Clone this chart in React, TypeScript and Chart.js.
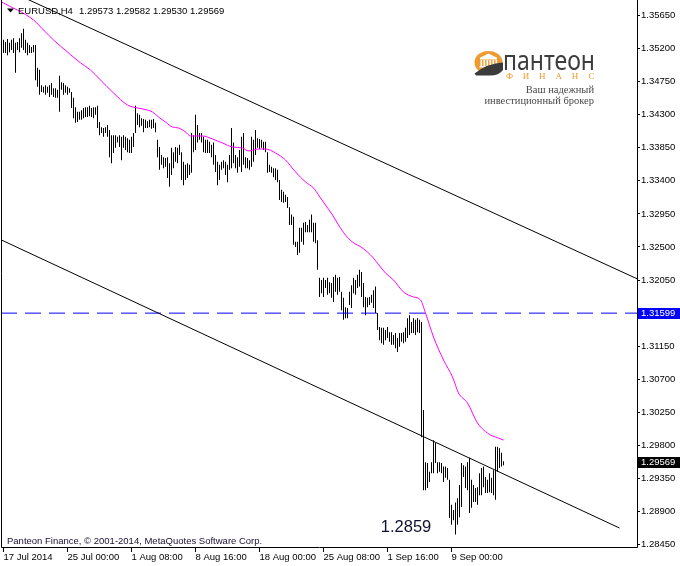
import React, { useEffect, useRef } from "react";
import { Chart, registerables } from "chart.js";

Chart.register(...registerables);

// ---------- DATA ----------
const symbolTitle = "EURUSD,H4";
const titleQuote = ["1.29573", "1.29582", "1.29530", "1.29569"];
const copyrightText = "Panteon Finance, \u00A9 2001-2014, MetaQuotes Software Corp.";
const lowLabel = "1.2859";

// H4 bars (index 0 = 17 Jul 2014 16:00), high / low
const barHigh = [
  1.3532, 1.3529, 1.3533, 1.3528, 1.3532, 1.3534, 1.3528, 1.3529, 1.3534, 1.3541,
  1.3547, 1.3532, 1.3528, 1.3525, 1.3522, 1.3525, 1.3525, 1.3494, 1.3491, 1.3470,
  1.3468, 1.3470, 1.3468, 1.3470, 1.3473, 1.3466, 1.3466, 1.3464, 1.3483, 1.3474,
  1.3473, 1.3470, 1.3468, 1.3466, 1.3461, 1.3453, 1.3440, 1.3434, 1.3434, 1.3436,
  1.3439, 1.3440, 1.3440, 1.3442, 1.3439, 1.3440, 1.3440, 1.3442, 1.3420, 1.3413,
  1.3412, 1.3413, 1.3416, 1.3409, 1.3402, 1.3402, 1.3402, 1.3400, 1.3402, 1.3400,
  1.3402, 1.3400, 1.3398, 1.3396, 1.3400, 1.3405, 1.3442, 1.3432, 1.3430, 1.3425,
  1.3424, 1.3423, 1.3421, 1.3423, 1.3423, 1.3424, 1.3419, 1.3396, 1.3386, 1.3375,
  1.3372, 1.3371, 1.3372, 1.3364, 1.3385, 1.3379, 1.3386, 1.3385, 1.3389, 1.3379,
  1.3366, 1.3362, 1.3364, 1.3362, 1.3405, 1.3402, 1.3430, 1.3416, 1.3405, 1.3405,
  1.3400, 1.3396, 1.3396, 1.3393, 1.3389, 1.3392, 1.3375, 1.3366, 1.3362, 1.3366,
  1.3368, 1.3366, 1.3362, 1.3375, 1.3412, 1.3392, 1.3375, 1.3372, 1.3382, 1.3400,
  1.3405, 1.3372, 1.3371, 1.3368, 1.3400, 1.3396, 1.3409, 1.3398, 1.3397, 1.3396,
  1.3393, 1.3393, 1.3379, 1.3362, 1.3359, 1.3357, 1.3357, 1.3355, 1.3341, 1.3328,
  1.3325, 1.3321, 1.3318, 1.3304, 1.3294, 1.3291, 1.3257, 1.3257, 1.3276, 1.3276,
  1.3283, 1.3284, 1.3280, 1.3287, 1.3294, 1.3283, 1.3283, 1.3259, 1.3208, 1.3205,
  1.3208, 1.3205, 1.3208, 1.3202, 1.3201, 1.3209, 1.3212, 1.3208, 1.3209, 1.3189,
  1.3181, 1.3168, 1.3167, 1.3189, 1.3198, 1.3208, 1.3205, 1.3212, 1.3219, 1.3216,
  1.3201, 1.3182, 1.3181, 1.3182, 1.3185, 1.3191, 1.3196, 1.3160, 1.3141, 1.3140,
  1.3140, 1.3137, 1.3141, 1.3134, 1.3134, 1.3130, 1.3133, 1.3126, 1.3133, 1.3133,
  1.3134, 1.3140, 1.3153, 1.3157, 1.3148, 1.3153, 1.3151, 1.3153, 1.3151, 1.3148,
  1.3028, 1.2957, 1.2956, 1.2944, 1.2957, 1.2987, 1.2983, 1.2957, 1.2957, 1.2956,
  1.2951, 1.2951, 1.2949, 1.2933, 1.2899, 1.2892, 1.2902, 1.2908, 1.2926, 1.2956,
  1.2953, 1.2951, 1.2957, 1.2963, 1.2933, 1.2926, 1.2922, 1.2923, 1.2942, 1.2949,
  1.2951, 1.2937, 1.2933, 1.2942, 1.2936, 1.2946, 1.2978, 1.2978, 1.2976, 1.2970,
  1.29582,
];
const barLow = [
  1.3514, 1.3514, 1.3511, 1.3515, 1.3518, 1.3514, 1.3487, 1.3518, 1.3515, 1.3521,
  1.3518, 1.3514, 1.3511, 1.3514, 1.3514, 1.3515, 1.3477, 1.3468, 1.3457, 1.3461,
  1.3460, 1.3457, 1.3460, 1.3454, 1.3457, 1.3454, 1.3453, 1.3453, 1.3434, 1.3464,
  1.3457, 1.3460, 1.3457, 1.3460, 1.3439, 1.3425, 1.3419, 1.3420, 1.3423, 1.3423,
  1.3425, 1.3427, 1.3427, 1.3428, 1.3427, 1.3425, 1.3430, 1.3412, 1.3402, 1.3405,
  1.3400, 1.3405, 1.3400, 1.3372, 1.3364, 1.3378, 1.3385, 1.3392, 1.3386, 1.3368,
  1.3385, 1.3382, 1.3379, 1.3378, 1.3378, 1.3386, 1.3405, 1.3416, 1.3413, 1.3415,
  1.3406, 1.3412, 1.3412, 1.3413, 1.3411, 1.3412, 1.3406, 1.3372, 1.3355, 1.3362,
  1.3357, 1.3359, 1.3344, 1.3332, 1.3348, 1.3357, 1.3366, 1.3364, 1.3375, 1.3341,
  1.3334, 1.3341, 1.3344, 1.3348, 1.3351, 1.3379, 1.3382, 1.3392, 1.3396, 1.3392,
  1.3379, 1.3378, 1.3378, 1.3378, 1.3372, 1.3362, 1.3352, 1.3334, 1.3341, 1.3355,
  1.3357, 1.3348, 1.3338, 1.3355, 1.3357, 1.3364, 1.3357, 1.3351, 1.3359, 1.3352,
  1.3362, 1.3357, 1.3357, 1.3355, 1.3359, 1.3366, 1.3375, 1.3385, 1.3383, 1.3385,
  1.3382, 1.3379, 1.3351, 1.3352, 1.3351, 1.3345, 1.3341, 1.3338, 1.3314, 1.3311,
  1.3310, 1.3311, 1.3303, 1.3280, 1.3280, 1.3253, 1.3250, 1.3239, 1.3242, 1.3257,
  1.3253, 1.3270, 1.3270, 1.3270, 1.3270, 1.3257, 1.3255, 1.3219, 1.3182, 1.3187,
  1.3182, 1.3194, 1.3185, 1.3187, 1.3181, 1.3175, 1.3189, 1.3185, 1.3189, 1.3164,
  1.3151, 1.3153, 1.3153, 1.3171, 1.3167, 1.3187, 1.3185, 1.3194, 1.3196, 1.3182,
  1.3168, 1.3157, 1.3168, 1.3171, 1.3174, 1.3167, 1.3160, 1.3137, 1.3123, 1.3119,
  1.3117, 1.3123, 1.3126, 1.3121, 1.3117, 1.3117, 1.3112, 1.3107, 1.3114, 1.3121,
  1.3119, 1.3121, 1.3126, 1.3130, 1.3133, 1.3133, 1.3130, 1.3134, 1.3133, 1.2991,
  1.2919, 1.2919, 1.2922, 1.2930, 1.2942, 1.2942, 1.2956, 1.2942, 1.2944, 1.2942,
  1.2930, 1.2936, 1.2933, 1.2881, 1.2872, 1.2878, 1.28587, 1.2872, 1.2882, 1.2896,
  1.2937, 1.2922, 1.2919, 1.2888, 1.2895, 1.2903, 1.2903, 1.2899, 1.2912, 1.2912,
  1.2923, 1.2915, 1.2915, 1.2916, 1.2915, 1.2912, 1.2906, 1.2944, 1.2949, 1.2951,
  1.29530,
];

// moving average (magenta), sampled along bar index
const maIndex = [
  -1, 15, 20, 25, 32, 38.5, 43.5, 48.5, 55, 62, 67, 72, 74.5, 77.5, 81, 84.5, 87.5, 91, 93.5, 99.5,
  104.5, 109.5, 114.5, 119.5, 122.5, 127.5, 131, 136, 141, 146, 151, 155, 157.5, 161, 164.5, 167.5,
  171, 174.5, 179.5, 184.5, 188.5, 191, 195, 200, 205, 208.5, 211, 215, 220, 224.5, 227.5, 232, 237,
  243.5, 246, 250,
];
const maValue = [
  1.35834, 1.35589, 1.35453, 1.35317, 1.35153, 1.35004, 1.34908, 1.34772, 1.34595, 1.34432,
  1.34391, 1.34364, 1.34337, 1.34269, 1.342, 1.34132, 1.34119, 1.34064, 1.3401, 1.3401,
  1.33969, 1.33915, 1.3386, 1.33847, 1.33806, 1.33833, 1.33833, 1.33779, 1.33683, 1.3352,
  1.33384, 1.33302, 1.33207, 1.33071, 1.32935, 1.32799, 1.32662, 1.32567, 1.32485, 1.32363,
  1.32227, 1.32145, 1.3205, 1.31887, 1.31819, 1.31778, 1.31601, 1.31274, 1.30961, 1.3073,
  1.30512, 1.30376, 1.30104, 1.2994, 1.29913, 1.29872,
];

// channel trend lines (bar index, price)
const upperLineX = [10, 317];
const upperLineY = [1.35896, 1.32064];
const lowerLineX = [-1, 308];
const lowerLineY = [1.32594, 1.28674];

const hLineLevel = 1.31599;
const lastClose = 1.29569;

const xTickIndex = [0, 32, 64, 96, 128, 160, 192, 224];
const xTickLabels = [
  "17 Jul 2014", "25 Jul 00:00", "1 Aug 08:00", "8 Aug 16:00",
  "18 Aug 00:00", "25 Aug 08:00", "1 Sep 16:00", "9 Sep 00:00",
];
const yTickValues = [
  1.3565, 1.352, 1.3475, 1.343, 1.3385, 1.334, 1.3295, 1.325, 1.3205,
  1.316, 1.3115, 1.307, 1.3025, 1.298, 1.2935, 1.289, 1.2845,
];

const xMin = -1.25;
const xMax = 316.75;
const yMin = 1.28416;
const yMax = 1.35861;

// ---------- DRAWING ----------
const FONT = '"Liberation Sans", Arial, sans-serif';

const overlayPlugin = {
  id: "overlay",
  afterDraw(chart: any) {
    const ctx = chart.ctx as CanvasRenderingContext2D;
    const { left, right, top, bottom } = chart.chartArea;
    const yScale = chart.scales.y;
    ctx.save();

    // frame (left, bottom, right)
    ctx.strokeStyle = "#000";
    ctx.lineWidth = 1;
    ctx.setLineDash([]);
    ctx.beginPath();
    ctx.moveTo(left + 0.5, top);
    ctx.lineTo(left + 0.5, bottom + 0.5);
    ctx.lineTo(right + 0.5, bottom + 0.5);
    ctx.lineTo(right + 0.5, top);
    ctx.stroke();

    // title
    ctx.fillStyle = "#000";
    ctx.beginPath();
    ctx.moveTo(7, 8.5);
    ctx.lineTo(14, 8.5);
    ctx.lineTo(10.5, 12.5);
    ctx.closePath();
    ctx.fill();
    ctx.font = "9.5px " + FONT;
    ctx.textAlign = "left";
    ctx.textBaseline = "middle";
    ctx.fillText(symbolTitle, 18, 11);
    ctx.fillText(titleQuote.join(" "), 79, 11);

    // copyright
    ctx.fillStyle = "#1a1030";
    ctx.fillText(copyrightText, 7, 541.5);

    // low label
    ctx.font = "16.5px " + FONT;
    ctx.textAlign = "center";
    ctx.fillStyle = "#101030";
    ctx.fillText(lowLabel, 406, 527);

    // price tags on the axis
    ctx.font = "9.5px " + FONT;
    ctx.textAlign = "left";
    const tag = (val: number, bg: string) => {
      const y = yScale.getPixelForValue(val);
      ctx.fillStyle = bg;
      ctx.fillRect(638, Math.round(y) - 5, 42, 11);
      ctx.fillStyle = "#fff";
      ctx.fillText(val.toFixed(5), 641, y + 0.5);
    };
    tag(hLineLevel, "#0000ff");
    tag(lastClose, "#000");

    // logo icon
    const orange = "#ef9a2f";
    ctx.fillStyle = orange;
    ctx.beginPath();
    ctx.ellipse(488.5, 62.5, 14, 11.5, 0, 0, Math.PI * 2);
    ctx.fill();
    ctx.fillStyle = "#fff";
    ctx.beginPath();
    ctx.moveTo(479.5, 58);
    ctx.lineTo(488.5, 53.5);
    ctx.lineTo(497.5, 58);
    ctx.closePath();
    ctx.fill();
    ctx.fillRect(480, 58, 17, 1.5);
    for (let k = 0; k < 6; k++) ctx.fillRect(480.5 + k * 3, 60, 1.6, 6);
    ctx.fillRect(479.5, 66, 18, 1.5);
    ctx.fillStyle = "#3b3b3b";
    ctx.beginPath();
    ctx.moveTo(474.5, 73.5);
    ctx.quadraticCurveTo(488, 63, 503, 62.5);
    ctx.lineTo(503, 70);
    ctx.quadraticCurveTo(499, 75.5, 490, 75.5);
    ctx.lineTo(476, 75.5);
    ctx.closePath();
    ctx.fill();

    // logo text
    ctx.fillStyle = "#3d3d3d";
    ctx.font = '28px "Noto Sans", sans-serif';
    ctx.textBaseline = "alphabetic";
    ctx.textAlign = "left";
    const word = "\u043f\u0430\u043d\u0442\u0435\u043e\u043d";
    const w = ctx.measureText(word).width;
    ctx.save();
    ctx.translate(503, 69.5);
    ctx.scale(92 / w, 1);
    ctx.fillText(word, 0, 0);
    ctx.restore();

    ctx.fillStyle = orange;
    ctx.font = '9px "Liberation Serif", serif';
    ctx.textAlign = "center";
    const letters = ["\u0424", "\u0418", "\u041d", "\u0410", "\u041d", "\u0421"];
    letters.forEach((ch, k) => ctx.fillText(ch, 509.5 + k * 16.4, 78.5));

    ctx.fillStyle = "#4a4a4a";
    ctx.font = '10.5px "Liberation Serif", serif';
    ctx.textAlign = "right";
    ctx.fillText("\u0412\u0430\u0448 \u043d\u0430\u0434\u0435\u0436\u043d\u044b\u0439", 594, 92.5);
    ctx.fillText("\u0438\u043d\u0432\u0435\u0441\u0442\u0438\u0446\u0438\u043e\u043d\u043d\u044b\u0439 \u0431\u0440\u043e\u043a\u0435\u0440", 594, 103.5);

    ctx.restore();
  },
};

export default function App() {
  const ref = useRef<HTMLCanvasElement>(null);

  useEffect(() => {
    const canvas = ref.current;
    if (!canvas) return;

    const bars = barHigh.map((h, i) => ({ x: i, y: [barLow[i], h] }));
    const ma = maIndex.map((x, i) => ({ x, y: maValue[i] }));
    const upper = upperLineX.map((x, i) => ({ x, y: upperLineY[i] }));
    const lower = lowerLineX.map((x, i) => ({ x, y: lowerLineY[i] }));
    const hline = [
      { x: xMin, y: hLineLevel },
      { x: xMax, y: hLineLevel },
    ];

    const tickFont = { family: FONT, size: 9.5 };

    const chart = new Chart(canvas, {
      type: "bar",
      data: {
        datasets: [
          {
            type: "line",
            data: ma,
            borderColor: "#ff00ff",
            borderWidth: 1,
            pointRadius: 0,
            cubicInterpolationMode: "monotone",
          } as any,
          {
            type: "line",
            data: upper,
            borderColor: "#000",
            borderWidth: 1,
            pointRadius: 0,
            tension: 0,
          } as any,
          {
            type: "line",
            data: lower,
            borderColor: "#000",
            borderWidth: 1,
            pointRadius: 0,
            tension: 0,
          } as any,
          {
            type: "line",
            data: hline,
            borderColor: "#0000ff",
            borderWidth: 1,
            borderDash: [16, 8],
            pointRadius: 0,
            tension: 0,
          } as any,
          {
            type: "bar",
            data: bars,
            backgroundColor: "#000",
            borderWidth: 0,
            barThickness: 1,
            inflateAmount: 0,
            grouped: false,
          } as any,
        ],
      },
      options: {
        responsive: false,
        maintainAspectRatio: false,
        devicePixelRatio: 1,
        animation: false,
        events: [],
        layout: { padding: { left: 1, top: 0, right: 0, bottom: 0 }, autoPadding: false },
        plugins: { legend: { display: false }, tooltip: { enabled: false }, title: { display: false } },
        scales: {
          x: {
            type: "linear",
            position: "bottom",
            min: xMin,
            max: xMax,
            offset: false,
            grid: { display: true, drawOnChartArea: false, drawTicks: true, tickLength: 5, color: "#000", offset: false },
            border: { display: false },
            ticks: {
              autoSkip: false,
              maxRotation: 0,
              minRotation: 0,
              align: "start",
              padding: 0,
              color: "#000",
              font: tickFont,
              callback: (_v: any, i: number) => xTickLabels[i] ?? "",
            },
            afterBuildTicks: (s: any) => {
              s.ticks = xTickIndex.map((v) => ({ value: v }));
            },
            afterFit: (s: any) => {
              s.height = 19;
              s.paddingLeft = 0;
              s.paddingRight = 0;
            },
          } as any,
          y: {
            type: "linear",
            position: "right",
            min: yMin,
            max: yMax,
            grid: { display: true, drawOnChartArea: false, drawTicks: true, tickLength: 3, color: "#000" },
            border: { display: false },
            ticks: {
              autoSkip: false,
              padding: 1,
              color: "#000",
              font: tickFont,
              callback: (v: any) => Number(v).toFixed(5),
            },
            afterBuildTicks: (s: any) => {
              s.ticks = yTickValues.map((v) => ({ value: v }));
            },
            afterFit: (s: any) => {
              s.width = 43;
              s.paddingTop = 0;
              s.paddingBottom = 0;
            },
          } as any,
        },
      } as any,
      plugins: [overlayPlugin],
    });

    return () => chart.destroy();
  }, []);

  return (
    <div style={{ position: "fixed", left: 0, top: 0, width: 680, height: 566, background: "#fff" }}>
      <canvas ref={ref} width={680} height={566} style={{ display: "block", width: 680, height: 566 }} />
    </div>
  );
}
